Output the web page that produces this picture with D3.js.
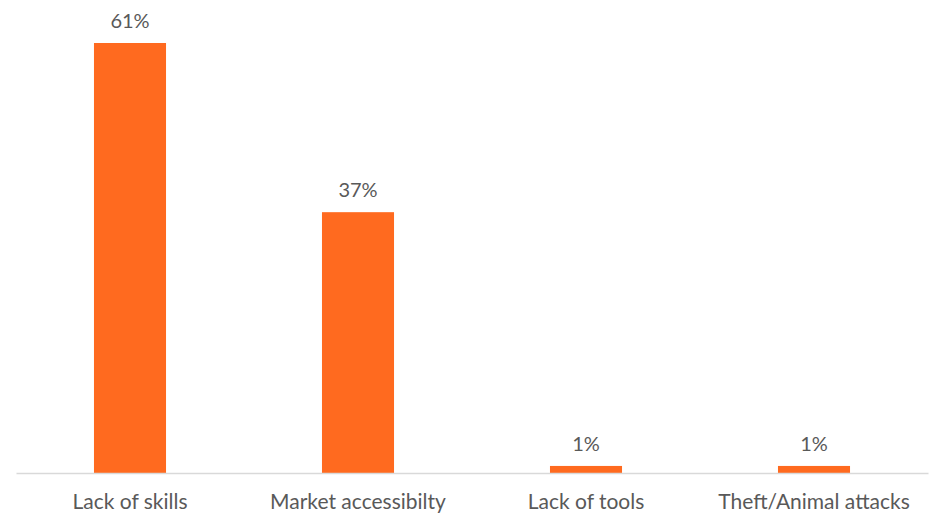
<!DOCTYPE html>
<html>
<head>
<meta charset="utf-8">
<script src="https://cdn.jsdelivr.net/npm/d3@7/dist/d3.min.js"></script>
<style>
  html, body { margin: 0; padding: 0; background: #fff; }
  svg { display: block; }
  text { font-family: Lato, "Open Sans", sans-serif; fill: #595959; }
</style>
</head>
<body>
<svg id="chart" width="936" height="516"></svg>
<script>
// Main barriers reported
const categories = ["Lack of skills", "Market accessibilty", "Lack of tools", "Theft/Animal attacks"];
const values = [61, 37, 1, 1];
const valueLabels = ["61%", "37%", "1%", "1%"];

const width = 936, height = 516;
const margin = { top: 43, right: 8, bottom: 43, left: 16 };
const baseline = height - margin.bottom;

const svg = d3.select("#chart");

const x = d3.scaleBand()
  .domain(categories)
  .range([margin.left, width - margin.right])
  .paddingInner(0.684)
  .paddingOuter(0.342);

const y = d3.scaleLinear()
  .domain([0, 61])
  .range([baseline, margin.top]);

// bars
svg.append("g")
  .selectAll("rect")
  .data(categories)
  .join("rect")
  .attr("x", d => x(d))
  .attr("width", x.bandwidth())
  .attr("y", (d, i) => y(values[i]))
  .attr("height", (d, i) => baseline - y(values[i]))
  .attr("fill", "#FF6A1F");

// category axis
const axis = svg.append("g")
  .attr("transform", `translate(0,${baseline})`)
  .call(d3.axisBottom(x).tickSize(0).tickPadding(21));
axis.select(".domain").attr("stroke", "#d9d9d9").attr("stroke-width", 1.5);
axis.selectAll("text")
  .attr("font-size", 21)
  .attr("fill", "#595959")
  .style("font-family", "Lato, 'Open Sans', sans-serif");

// value labels
svg.append("g")
  .selectAll("text")
  .data(categories)
  .join("text")
  .attr("x", d => x(d) + x.bandwidth() / 2)
  .attr("y", (d, i) => y(values[i]) - 15)
  .attr("text-anchor", "middle")
  .attr("font-size", 20)
  .text((d, i) => valueLabels[i]);
</script>
</body>
</html>
